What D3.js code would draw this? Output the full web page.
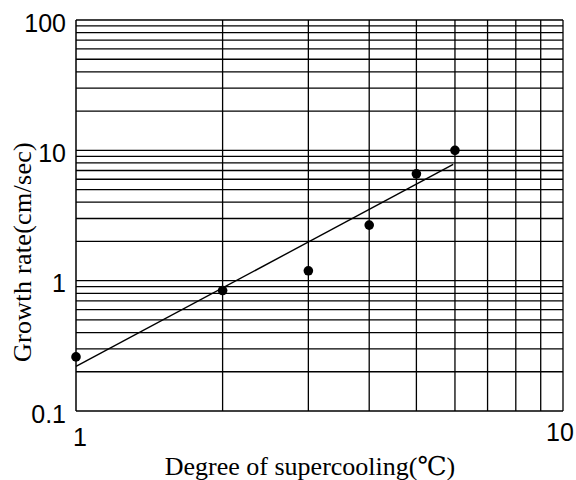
<!DOCTYPE html>
<html>
<head>
<meta charset="utf-8">
<script src="https://cdn.jsdelivr.net/npm/d3@7"></script>
<style>
  body { margin: 0; background: #fff; }
  text { font-family: "Liberation Serif", "DejaVu Serif", serif; fill: #000; }
  .tick { font-family: "Liberation Sans", "DejaVu Sans", sans-serif; }
</style>
</head>
<body>
<svg id="chart"></svg>
<script>
const supercooling = [1, 2, 3, 4, 5, 6];
const growthRate = [0.26, 0.84, 1.19, 2.67, 6.6, 10.0];
const fitCoef = 0.22;      // fitted line: rate = 0.22 * dT^2
const fitRange = [1, 5.95];
const xTickLabels = [1, 10];
const yTickLabels = [0.1, 1, 10, 100];

const width = 576, height = 480;
const margin = {left: 76, right: 13, top: 20, bottom: 69};

const svg = d3.select("#chart").attr("width", width).attr("height", height);

const x = d3.scaleLog().domain([1, 10]).range([margin.left, width - margin.right]);
const y = d3.scaleLog().domain([0.1, 100]).range([height - margin.bottom, margin.top]);

// grid lines
const xGrid = d3.range(2, 11);
const yGrid = [];
[0.1, 1, 10].forEach(d => { for (let k = 1; k <= 9; k++) yGrid.push(d * k); });
yGrid.push(100);

const grid = svg.append("g").attr("stroke", "#000").attr("stroke-width", 1.3);
grid.selectAll("line.h").data(yGrid).enter().append("line")
    .attr("x1", x(1)).attr("x2", x(10))
    .attr("y1", d => y(d)).attr("y2", d => y(d));
grid.selectAll("line.v").data(xGrid).enter().append("line")
    .attr("y1", y(0.1)).attr("y2", y(100))
    .attr("x1", d => x(d)).attr("x2", d => x(d));
svg.append("line")
    .attr("x1", x(1)).attr("x2", x(1))
    .attr("y1", y(0.1)).attr("y2", y(100))
    .attr("stroke", "#000").attr("stroke-width", 1.5);

// fitted line
const fit = d3.line().x(d => x(d)).y(d => y(fitCoef * d * d));
svg.append("path")
    .datum(fitRange)
    .attr("d", fit)
    .attr("fill", "none").attr("stroke", "#000").attr("stroke-width", 1.4);

// data points
svg.append("g").selectAll("circle")
    .data(supercooling)
    .enter().append("circle")
    .attr("cx", d => x(d))
    .attr("cy", (d, i) => y(growthRate[i]))
    .attr("r", 4.8)
    .attr("fill", "#000");

// tick labels
svg.append("g").selectAll("text")
    .data(yTickLabels)
    .enter().append("text")
    .attr("class", "tick")
    .attr("x", x(1) - 10)
    .attr("y", d => y(d) + 3)
    .attr("dy", "0.35em")
    .attr("text-anchor", "end")
    .attr("font-size", 25)
    .text(d => d);

svg.append("g").selectAll("text")
    .data(xTickLabels)
    .enter().append("text")
    .attr("class", "tick")
    .attr("x", d => x(d) + (d === 10 ? -3 : 4))
    .attr("y", d => d === 10 ? 432 : 437)
    .attr("dy", "0.35em")
    .attr("text-anchor", "middle")
    .attr("font-size", 25)
    .text(d => d);

// axis titles
svg.append("text")
    .attr("x", 310)
    .attr("y", 475)
    .attr("text-anchor", "middle")
    .attr("font-size", 26)
    .text("Degree of supercooling(℃)");

svg.append("text")
    .attr("transform", "translate(31,252) rotate(-90)")
    .attr("text-anchor", "middle")
    .attr("font-size", 26)
    .attr("letter-spacing", 0.3)
    .text("Growth rate(cm/sec)");
</script>
</body>
</html>
